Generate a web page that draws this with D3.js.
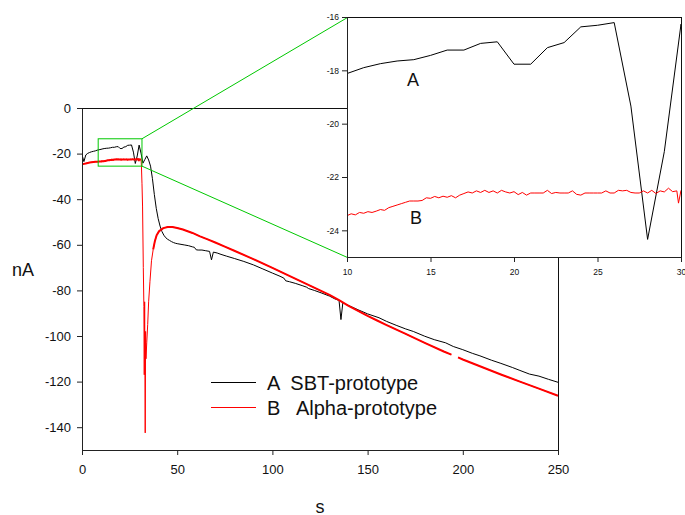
<!DOCTYPE html>
<html>
<head>
<meta charset="utf-8">
<script src="https://cdn.jsdelivr.net/npm/d3@7"></script>
<style>
  html, body { margin: 0; padding: 0; background: #fff; }
  svg { display: block; font-family: "Liberation Sans", Arial, sans-serif; }
</style>
</head>
<body>
<svg id="chart" width="685" height="515"></svg>
<script>
// ---- tick labels and legend names ----
const xTicks = [0, 50, 100, 150, 200, 250];
const yTicks = [0, -20, -40, -60, -80, -100, -120, -140];
const insetXTicks = [10, 15, 20, 25, 30];
const insetYTicks = [-16, -18, -20, -22, -24];
const seriesNames = ["A  SBT-prototype", "B   Alpha-prototype"];
const insetNames = ["A", "B"];

// ---- series A (SBT-prototype): [time s, current nA] ----
const blackEarly = [
  [0,-20.5],[1,-23.5],[2,-20.6],[3,-19.9],[4,-19.5],[5,-19.2],[6,-19.0],[7,-18.8],[8,-18.5],[9,-18.3],
  [10,-18.12],[11,-17.9],[12,-17.75],[13,-17.65],[14,-17.6],[15,-17.44],[16,-17.24],[17,-17.24],[18,-16.99],[19,-16.93],
  [20,-17.77],[21,-17.77],[22,-17.15],[23,-16.96],[24,-16.37],[25,-16.31],[26,-16.21],[27,-19.34],[28,-24.34],[29,-21.05],
  [30,-16.27],[31,-19.8],[32,-24.2],[33,-22.6],[34,-21.0],[35,-22.8],[36,-25.5],[37,-31],[38,-38],[39,-44],
  [40,-48.5],[41,-51.8],[42,-54.2],[43,-55.8],[44,-56.9],[45,-57.6],[46,-58.1],[47,-58.6],[48,-59.0],[49,-59.3],[50,-59.5]
];
const blackLate = [
  [52,-59.8],[54,-60.1],[56,-60.4],[58,-60.9],[59,-61.1],[60,-62.2],[61,-62.3],[63,-62.3],[65,-62.6],[67,-62.9],
  [68,-66.6],[69,-63.2],[71,-63.6],[73,-64.2],[76,-65.0],[80,-66.0],[85,-67.3],[90,-68.8],[95,-70.6],[100,-72.4],
  [104,-73.8],[106,-74.6],[107,-75.8],[109,-76.2],[112,-76.9],[116,-78.0],[118,-78.6],[119,-79.2],[122,-80.0],[126,-81.2],
  [130,-82.5],[133,-83.8],[135,-84.4],[136,-92.8],[137,-85.4],[140,-86.6],[145,-88.5],[150,-90.3],[156,-92.0],[160,-93.6],
  [165,-95.3],[170,-96.9],[174,-98.0],[180,-100.1],[185,-101.6],[191,-103.0],[195,-104.6],[200,-106.0],[205,-107.6],[209,-108.7],
  [215,-110.6],[220,-112.0],[226,-113.8],[230,-115.1],[235,-116.7],[240,-117.6],[245,-119.0],[250,-120.3]
];

// ---- series B (Alpha-prototype): [time s, current nA] ----
const redStart = [
  [0,-24.7],[1,-24.5],[2,-24.3],[3,-24.1],[4,-23.95],[5,-23.8],[6,-23.7],[7,-23.6],[8,-23.55],[9,-23.5]
];
const redNoise = [
  [10,-23.45],[10.25,-23.38],[10.5,-23.42],[10.75,-23.33],[11,-23.36],[11.25,-23.30],[11.5,-23.33],[11.75,-23.28],
  [12,-23.22],[12.25,-23.25],[12.5,-23.15],[12.75,-23.10],[13,-23.05],[13.25,-23.0],[13.5,-22.95],[13.75,-22.9],
  [14,-22.9],[14.25,-22.9],[14.5,-22.88],[14.75,-22.78],[15,-22.8],[15.25,-22.73],[15.5,-22.78],[15.75,-22.72],
  [16,-22.76],[16.25,-22.7],[16.5,-22.78],[16.75,-22.68],[17,-22.62],[17.25,-22.56],[17.5,-22.6],[17.75,-22.52],
  [18,-22.58],[18.25,-22.5],[18.5,-22.58],[18.75,-22.52],[19,-22.6],[19.25,-22.5],[19.5,-22.56],[19.75,-22.6],
  [20,-22.55],[20.25,-22.66],[20.5,-22.58],[20.75,-22.68],[21,-22.6],[21.25,-22.6],[21.5,-22.6],[21.75,-22.6],
  [22,-22.5],[22.25,-22.62],[22.5,-22.58],[22.75,-22.6],[23,-22.6],[23.25,-22.6],[23.5,-22.52],[23.75,-22.65],
  [24,-22.68],[24.25,-22.6],[24.5,-22.6],[24.75,-22.6],[25,-22.6],[25.25,-22.6],[25.5,-22.52],[25.75,-22.6],
  [26,-22.6],[26.25,-22.5],[26.5,-22.52],[26.75,-22.5],[27,-22.58],[27.25,-22.6],[27.5,-22.6],[27.75,-22.52],
  [28,-22.6],[28.25,-22.5],[28.5,-22.62],[28.75,-22.52],[29,-22.56],[29.25,-22.42],[29.5,-22.55],[29.75,-22.52],
  [29.85,-22.98],[30,-22.5],[30.25,-22.55],[30.5,-22.55],[30.75,-22.6]
];
const redSpike = [
  [31,-22.6],[31.2,-25],[31.5,-33],[31.8,-43],[32.2,-70],[32.5,-87],[32.7,-117],[32.9,-85],
  [33.2,-142.5],[33.4,-98],[33.6,-110],[34.0,-103],[34.5,-95],[35.0,-85],[35.7,-76]
];
const redDecay = [
  [36.5,-67],[37.4,-62],[38.3,-58.3],[39.2,-55.8],[40.5,-54.0],[42.7,-52.7],[45,-52.2],[47.5,-52.2],
  [50,-52.6],[53,-53.3],[58,-54.8],[62,-56.3],[66,-57.6],[70,-59.0],[75,-60.8],[80,-62.6],[90,-66.3],
  [100,-70.1],[110,-74.1],[120,-78.0],[130,-82.0],[135,-84.3],[140,-86.8],[145,-89.0],[150,-91.2],
  [155,-93.2],[160,-95.2],[170,-99.1],[180,-103.0],[190,-106.8],[194,-108.2],[195.8,null],
  [197.5,-109.4],[200,-110.3],[210,-113.6],[220,-116.9],[230,-120.0],[240,-123.1],[250,-126.2]
];

const seriesA = blackEarly.concat(blackLate);
const seriesB = redStart.concat(redNoise, redSpike, redDecay);
const colors = ["#000000", "#ff0000"];
const zoomColor = "#00c800";
const fontFamily = '"Liberation Sans", Arial, sans-serif';

const svg = d3.select("#chart");
svg.append("rect").attr("width", 685).attr("height", 515).attr("fill", "#fff");

// ---- main plot ----
const x = d3.scaleLinear().domain([0, 250]).range([82, 558]);
const y = d3.scaleLinear().domain([-150, 0]).range([450, 108]);

const defs = svg.append("defs");
defs.append("clipPath").attr("id", "clip-main")
  .append("rect").attr("x", 82).attr("y", 100).attr("width", 477).attr("height", 351);

const mainLine = d3.line()
  .defined(d => d[1] !== null)
  .x(d => x(d[0])).y(d => y(d[1]));
// the fast transient is drawn thin, the slow parts with a heavier stroke
const mainLineThick = d3.line()
  .defined(d => d[1] !== null && (d[0] <= 31 || d[0] >= 37.4))
  .x(d => x(d[0])).y(d => y(d[1]));

const plot = svg.append("g").attr("clip-path", "url(#clip-main)");
plot.append("path").datum(seriesA)
  .attr("d", mainLine).attr("fill", "none")
  .attr("stroke", colors[0]).attr("stroke-width", 1).attr("stroke-linejoin", "round");
plot.append("path").datum(seriesB)
  .attr("d", mainLine).attr("fill", "none")
  .attr("stroke", colors[1]).attr("stroke-width", 1).attr("stroke-linejoin", "round");
plot.append("path").datum(seriesB)
  .attr("d", mainLineThick).attr("fill", "none")
  .attr("stroke", colors[1]).attr("stroke-width", 2).attr("stroke-linejoin", "round");

// frame top and right
svg.append("line").attr("x1", x(0)).attr("x2", x(250) + 0.5)
  .attr("y1", y(0) + 0.5).attr("y2", y(0) + 0.5).attr("stroke", "#111");
svg.append("line").attr("x1", x(250) + 0.5).attr("x2", x(250) + 0.5)
  .attr("y1", y(0)).attr("y2", y(-150) + 0.5).attr("stroke", "#111");

function styleAxis(g, size) {
  g.attr("font-family", fontFamily).attr("font-size", size);
  g.select(".domain").attr("stroke", "#222");
  g.selectAll(".tick line").attr("stroke", "#222");
  g.selectAll(".tick text").attr("fill", "#111");
}

const gy = svg.append("g").attr("transform", `translate(${x(0)},0)`)
  .call(d3.axisLeft(y).tickValues(yTicks).tickSize(5).tickPadding(6)
    .tickSizeOuter(0).tickFormat(d => String(d)));
styleAxis(gy, 13);

const gx = svg.append("g").attr("transform", `translate(0,${y(-150)})`)
  .call(d3.axisBottom(x).tickValues(xTicks).tickSize(5).tickPadding(10)
    .tickSizeOuter(0).tickFormat(d => String(d)));
styleAxis(gx, 13);

// axis titles
svg.append("text").attr("x", 12).attr("y", 276)
  .attr("font-size", 18).attr("fill", "#111").text("nA");
svg.append("text").attr("x", 320).attr("y", 512.5).attr("text-anchor", "middle")
  .attr("font-size", 18).attr("fill", "#111").text("s");

// ---- zoom window and connectors ----
const ix = d3.scaleLinear().domain([10, 30]).range([347, 681]);
const iy = d3.scaleLinear().domain([-25, -16]).range([257, 17]);

const zx0 = x(8.5), zx1 = x(31.5), zy0 = y(-13.5), zy1 = y(-25.5);
svg.append("rect").attr("x", zx0).attr("y", zy0)
  .attr("width", zx1 - zx0).attr("height", zy1 - zy0)
  .attr("fill", "none").attr("stroke", zoomColor).attr("stroke-width", 1);
svg.append("line").attr("x1", zx1).attr("y1", zy0)
  .attr("x2", ix(10) + 0.5).attr("y2", iy(-16) + 0.5)
  .attr("stroke", zoomColor).attr("stroke-width", 1);
svg.append("line").attr("x1", zx1).attr("y1", zy1)
  .attr("x2", ix(10) + 0.5).attr("y2", iy(-25) + 0.5)
  .attr("stroke", zoomColor).attr("stroke-width", 1);

// ---- inset ----
const inset = svg.append("g");
inset.append("rect").attr("x", ix(10)).attr("y", iy(-16))
  .attr("width", ix(30) - ix(10) + 1).attr("height", iy(-25) - iy(-16) + 1)
  .attr("fill", "#fff");

defs.append("clipPath").attr("id", "clip-inset")
  .append("rect").attr("x", ix(10)).attr("y", iy(-16))
  .attr("width", ix(30) - ix(10) + 1).attr("height", iy(-25) - iy(-16) + 1);

const insetLine = d3.line()
  .defined(d => d[1] !== null)
  .x(d => ix(d[0])).y(d => iy(d[1]));
const inPlot = inset.append("g").attr("clip-path", "url(#clip-inset)");
inPlot.append("path").datum(seriesA.filter(d => d[0] >= 9 && d[0] <= 32))
  .attr("d", insetLine).attr("fill", "none")
  .attr("stroke", colors[0]).attr("stroke-width", 1);
inPlot.append("path").datum(seriesB.filter(d => d[0] >= 9 && d[0] <= 31.2))
  .attr("d", insetLine).attr("fill", "none")
  .attr("stroke", colors[1]).attr("stroke-width", 1);

inset.append("rect").attr("x", ix(10) + 0.5).attr("y", iy(-16) + 0.5)
  .attr("width", ix(30) - ix(10)).attr("height", iy(-25) - iy(-16))
  .attr("fill", "none").attr("stroke", "#111").attr("stroke-width", 1);

const igy = inset.append("g").attr("transform", `translate(${ix(10)},0)`)
  .call(d3.axisLeft(iy).tickValues(insetYTicks).tickSize(5).tickPadding(3)
    .tickSizeOuter(0).tickFormat(d => String(d)));
styleAxis(igy, 8.5);
const igx = inset.append("g").attr("transform", `translate(0,${iy(-25)})`)
  .call(d3.axisBottom(ix).tickValues(insetXTicks).tickSize(5).tickPadding(7)
    .tickSizeOuter(0).tickFormat(d => String(d)));
styleAxis(igx, 8.5);

inset.append("text").attr("x", 407).attr("y", 86)
  .attr("font-size", 18).attr("fill", "#111").text(insetNames[0]);
inset.append("text").attr("x", 410).attr("y", 224)
  .attr("font-size", 18).attr("fill", "#111").text(insetNames[1]);

// ---- legend ----
const legend = svg.append("g");
seriesNames.forEach((name, i) => {
  const ly = 382.5 + i * 25;
  legend.append("line").attr("x1", 211).attr("x2", 256)
    .attr("y1", ly).attr("y2", ly)
    .attr("stroke", colors[i]).attr("stroke-width", 1);
  legend.append("text").attr("x", 267).attr("y", ly + 7.5)
    .attr("font-size", 20).attr("fill", "#111")
    .style("white-space", "pre").text(name);
});
</script>
</body>
</html>
